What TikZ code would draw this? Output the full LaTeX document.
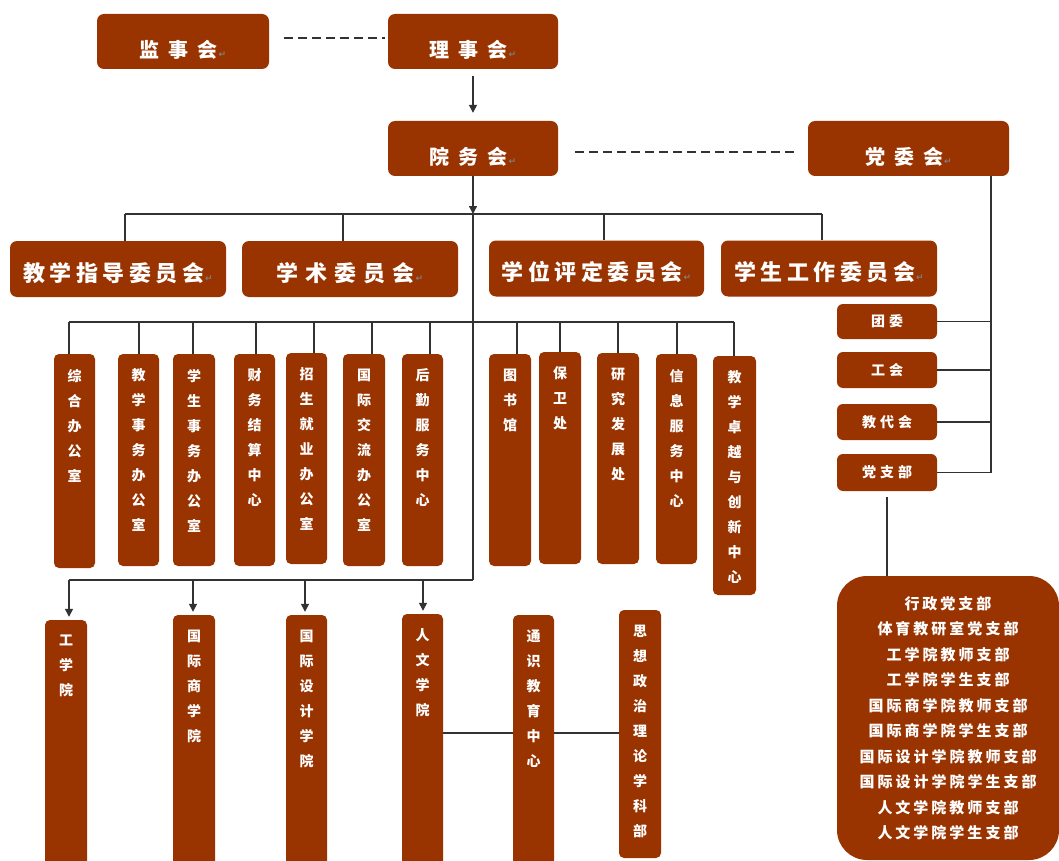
\documentclass[tikz,border=0pt]{standalone}
\usepackage{fontspec}
\newfontfamily\cjk{Noto Sans CJK SC}
\newfontfamily\symf{DejaVu Sans}
\usetikzlibrary{arrows.meta}
\definecolor{brn}{RGB}{153,51,0}
\definecolor{ln}{RGB}{50,50,50}
\makeatletter
\newcommand\spaced[2]{\@tfor\sp@c:=#2\do{\sp@c\hskip#1\relax}\unskip}
\makeatother
\newcommand\pmk{\kern1pt{\symf\fontsize{9}{9}\selectfont\color{gray}↵}}
\newcommand\vtxt[2]{\parbox[c][\dimexpr#1pt-30pt\relax][t]{24pt}{\centering#2}}
\begin{document}
\begin{tikzpicture}[x=1pt,y=-1pt,
  box/.style={fill=brn,rounded corners=6pt,text=white,inner sep=0pt},
  topbox/.style={box,rounded corners=7pt,minimum height=55pt,font=\cjk\bfseries\fontsize{20}{24}\selectfont,text height=33.6pt,text depth=2.4pt},
  combox/.style={box,rounded corners=7pt,minimum height=56pt,minimum width=216pt,font=\cjk\bfseries\fontsize{22}{26}\selectfont,text height=27.4pt,text depth=2.6pt},
  vbox/.style={box,rounded corners=5pt,inner ysep=15pt,inner xsep=0pt,minimum width=41pt,font=\cjk\bfseries\fontsize{14}{25}\selectfont},
  sbox/.style={box,minimum width=100pt,font=\cjk\bfseries\fontsize{14}{16}\selectfont},
  conn/.style={draw=ln,line width=1.3pt},
  dline/.style={conn,dash pattern=on 9pt off 5pt},
  arr/.style={conn,-{Triangle[length=8pt,width=8pt]}}]
\fill[white] (0,0) rectangle (1059,861);
\useasboundingbox (0,0) rectangle (1059,861);

% top level
\node[topbox,minimum width=172pt] (jsh) at (183,41.5) {\spaced{9pt}{监事会}\pmk};
\node[topbox,minimum width=170pt] (lsh) at (473,41.5) {\spaced{9pt}{理事会}\pmk};
\node[topbox,minimum width=170pt] (ywh) at (473,148.5) {\spaced{9pt}{院务会}\pmk};
\node[topbox,minimum width=201pt] (dwh) at (908.5,148.5) {\spaced{9pt}{党委会}\pmk};

% committees
\node[combox] (c1) at (118,269) {\spaced{4.5pt}{教学指导委员会}\pmk};
\node[combox] (c2) at (350,269) {\spaced{7pt}{学术委员会}\pmk};
\node[combox,minimum width=215pt] (c3) at (596.5,268.5) {\spaced{4.5pt}{学位评定委员会}\pmk};
\node[combox] (c4) at (829,268.5) {\spaced{4.5pt}{学生工作委员会}\pmk};

% offices
\node[vbox,minimum height=214pt] (o1) at (74.5,461) {\vtxt{214}{综\\合\\办\\公\\室}};
\node[vbox,minimum height=212pt] (o2) at (138.5,460) {\vtxt{212}{教\\学\\事\\务\\办\\公\\室}};
\node[vbox,minimum height=212pt,minimum width=42pt] (o3) at (194,460) {\vtxt{212}{学\\生\\事\\务\\办\\公\\室}};
\node[vbox,minimum height=212pt] (o4) at (254.5,460) {\vtxt{212}{财\\务\\结\\算\\中\\心}};
\node[vbox,minimum height=211pt] (o5) at (306.5,458.5) {\vtxt{211}{招\\生\\就\\业\\办\\公\\室}};
\node[vbox,minimum height=212pt,minimum width=42pt] (o6) at (364,460) {\vtxt{212}{国\\际\\交\\流\\办\\公\\室}};
\node[vbox,minimum height=212pt] (o7) at (422.5,460) {\vtxt{212}{后\\勤\\服\\务\\中\\心}};
\node[vbox,minimum height=212pt,minimum width=42pt] (o8) at (510,460) {\vtxt{212}{图\\书\\馆}};
\node[vbox,minimum height=212pt,minimum width=42pt] (o9) at (560,458) {\vtxt{212}{保\\卫\\处}};
\node[vbox,minimum height=211pt,minimum width=42pt] (o10) at (618,458.5) {\vtxt{211}{研\\究\\发\\展\\处}};
\node[vbox,minimum height=210pt] (o11) at (676.5,459) {\vtxt{210}{信\\息\\服\\务\\中\\心}};
\node[vbox,minimum height=239pt,minimum width=43pt] (o12) at (734.5,475.5) {\vtxt{239}{教\\学\\卓\\越\\与\\创\\新\\中\\心}};

% colleges
\node[vbox,minimum height=260pt,minimum width=42pt] (k1) at (66,750) {\vtxt{260}{工\\学\\院}};
\node[vbox,minimum height=265pt,minimum width=42pt] (k2) at (194,747.5) {\vtxt{265}{国\\际\\商\\学\\院}};
\node[vbox,minimum height=265pt] (k3) at (306.5,747.5) {\vtxt{265}{国\\际\\设\\计\\学\\院}};
\node[vbox,minimum height=266pt] (k4) at (422.5,747) {\vtxt{266}{人\\文\\学\\院}};
\node[vbox,minimum height=265pt] (k5) at (533.5,747.5) {\vtxt{265}{通\\识\\教\\育\\中\\心}};
\node[vbox,minimum height=248pt,minimum width=42pt] (k6) at (640,734) {\vtxt{248}{思\\想\\政\\治\\理\\论\\学\\科\\部}};

% right column
\node[sbox,minimum height=35pt] (tw) at (887,321.5) {\spaced{4pt}{团委}};
\node[sbox,minimum height=36pt] (gh) at (887,370) {\spaced{4pt}{工会}};
\node[sbox,minimum height=36pt] (jdh) at (887,422) {\spaced{4pt}{教代会}};
\node[sbox,minimum height=37pt] (dzb) at (887,472.5) {\spaced{4pt}{党支部}};
\node[box,rounded corners=30pt,minimum width=222pt,minimum height=284pt,align=center,
      font=\cjk\bfseries\fontsize{15}{25.5}\selectfont] (db) at (948,718)
  {\spaced{3pt}{行政党支部}\\
   \spaced{3pt}{体育教研室党支部}\\
   \spaced{3pt}{工学院教师支部}\\
   \spaced{3pt}{工学院学生支部}\\
   \spaced{3pt}{国际商学院教师支部}\\
   \spaced{3pt}{国际商学院学生支部}\\
   \spaced{3pt}{国际设计学院教师支部}\\
   \spaced{3pt}{国际设计学院学生支部}\\
   \spaced{3pt}{人文学院教师支部}\\
   \spaced{3pt}{人文学院学生支部}};

% connectors: top
\draw[dline] ([xshift=15pt,yshift=3.5pt]jsh.east) -- ([xshift=-3pt,yshift=3.5pt]lsh.west);
\draw[dline] ([xshift=17pt,yshift=-3.5pt]ywh.east) -- ([xshift=-14pt,yshift=-3.5pt]dwh.west);
\draw[arr,shorten <=7pt,shorten >=8pt] (lsh.south) -- (ywh.north);

% committee bus
\coordinate (cb1) at (125,214);
\coordinate (cb2) at (343,214);
\coordinate (cbM) at (473,214);
\coordinate (cb3) at (604,214);
\coordinate (cb4) at (822,214);
\draw[conn] (cb1) -- (cb4);
\draw[conn] (cb1) -- (cb1 |- c1.north);
\draw[conn] (cb2) -- (cb2 |- c2.north);
\draw[conn] (cb3) -- (cb3 |- c3.north);
\draw[conn] (cb4) -- (cb4 |- c4.north);
\draw[arr] (ywh.south) -- (cbM);
\coordinate (tb) at (473,580);
\draw[conn] (cbM) -- (tb);

% office bus
\foreach \i/\x in {1/69,2/139,3/193,4/256,5/314,6/372,7/430,8/517,9/560,10/618,11/677,12/734}{
  \coordinate (ob\i) at (\x,322);
  \draw[conn] (ob\i) -- (ob\i |- o\i.north);
}
\draw[conn] (ob1) -- (ob12);

% college bus
\foreach \i/\x in {1/69,2/193,3/305,4/423}{
  \coordinate (kb\i) at (\x,580);
  \draw[arr,shorten >=3pt] (kb\i) -- (kb\i |- k\i.north);
}
\draw[conn] (kb1) -- (tb);
\coordinate (kc) at (0,733);
\draw[conn] (k4.east |- kc) -- (k5.west |- kc);
\draw[conn] (k5.east |- kc) -- (k6.west |- kc);

% party column
\coordinate (rx) at (991,0);
\draw[conn] (dwh.south -| rx) -- (dzb.east -| rx);
\foreach \n in {tw,gh,jdh,dzb}{\draw[conn] (\n.east) -- (\n.east -| rx);}
\draw[conn] ([yshift=-6pt]dzb.south) -- (dzb.south |- db.north);
\end{tikzpicture}
\end{document}
